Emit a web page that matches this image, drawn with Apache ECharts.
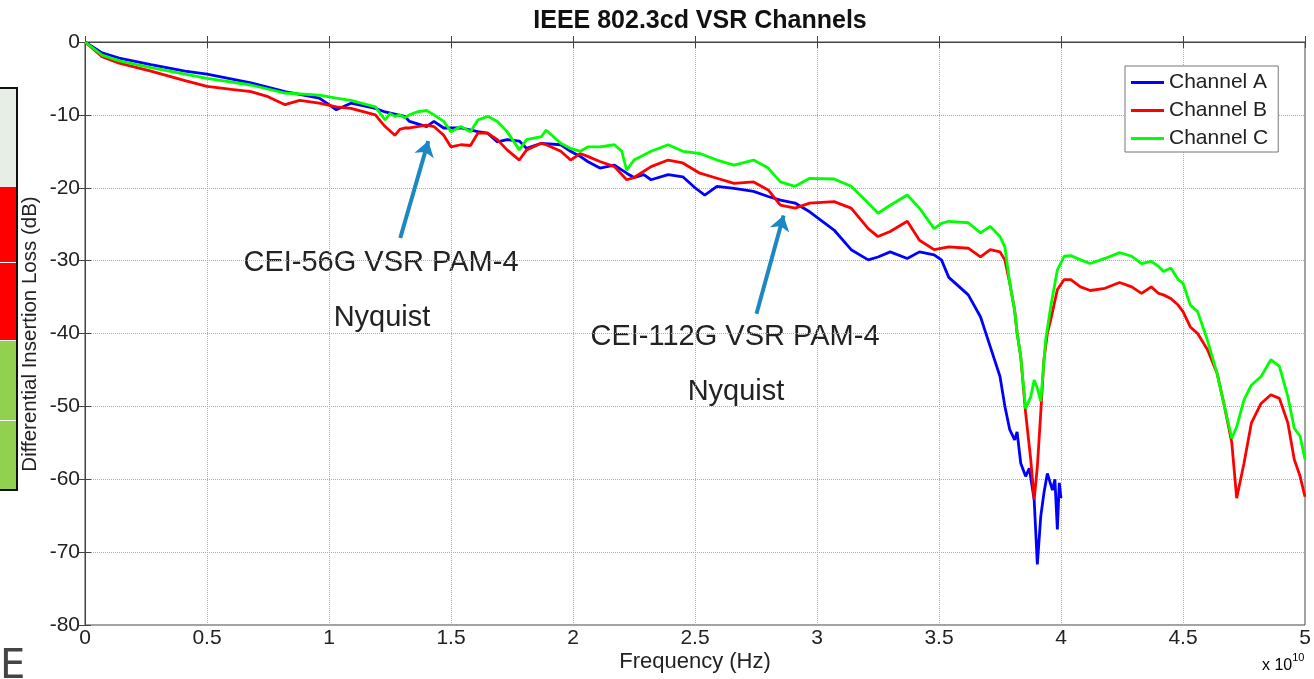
<!DOCTYPE html>
<html>
<head>
<meta charset="utf-8">
<title>IEEE 802.3cd VSR Channels</title>
<script src="https://cdn.jsdelivr.net/npm/echarts@6/dist/echarts.min.js"></script>
<style>
  html, body { margin: 0; padding: 0; background: #fff; }
  #chart { width: 1314px; height: 679px; }
</style>
</head>
<body>
<div id="chart"></div>
<script>
// frequency in units of 1e10 Hz, loss in dB
const freqA = [0, 0.07, 0.14, 0.27, 0.41, 0.5, 0.68, 0.82, 0.96, 1.0, 1.03, 1.09, 1.19, 1.23, 1.31, 1.33, 1.4, 1.43, 1.47, 1.54, 1.61, 1.65, 1.69, 1.73, 1.78, 1.81, 1.87, 1.95, 1.99, 2.03, 2.06, 2.11, 2.17, 2.22, 2.25, 2.29, 2.32, 2.39, 2.45, 2.5, 2.54, 2.59, 2.66, 2.74, 2.8, 2.85, 2.91, 2.97, 3.07, 3.14, 3.21, 3.25, 3.3, 3.37, 3.42, 3.48, 3.51, 3.54, 3.62, 3.67, 3.71, 3.75, 3.77, 3.79, 3.81, 3.82, 3.835, 3.855, 3.87, 3.89, 3.903, 3.917, 3.93, 3.944, 3.965, 3.975, 3.985, 3.993, 4.0];
const lossA = [0, -1.5, -2.2, -3.1, -4.0, -4.4, -5.6, -6.8, -7.7, -8.6, -9.3, -8.4, -9.1, -9.6, -10.2, -10.9, -11.6, -10.9, -11.8, -11.8, -12.3, -12.5, -13.7, -13.4, -13.6, -14.6, -13.9, -14.1, -15.0, -15.7, -16.4, -17.3, -16.9, -18.0, -18.6, -18.2, -18.9, -18.2, -18.5, -20.0, -21.0, -19.8, -20.1, -20.5, -21.2, -21.7, -22.1, -23.3, -25.8, -28.5, -29.9, -29.5, -28.8, -29.7, -28.8, -29.2, -29.9, -32.3, -34.7, -37.7, -41.8, -45.9, -50.0, -53.2, -54.6, -53.5, -57.8, -59.6, -58.5, -62.8, -71.7, -65.1, -61.9, -59.2, -61.5, -60.0, -66.9, -60.5, -62.6];

const freqB = [0, 0.07, 0.14, 0.27, 0.41, 0.5, 0.6, 0.68, 0.75, 0.82, 0.88, 0.96, 1.03, 1.09, 1.19, 1.23, 1.27, 1.29, 1.31, 1.33, 1.4, 1.43, 1.47, 1.5, 1.54, 1.58, 1.61, 1.65, 1.69, 1.73, 1.78, 1.81, 1.87, 1.89, 1.95, 1.99, 2.03, 2.06, 2.11, 2.17, 2.22, 2.25, 2.32, 2.39, 2.45, 2.52, 2.59, 2.66, 2.74, 2.8, 2.85, 2.91, 2.97, 3.07, 3.14, 3.21, 3.25, 3.3, 3.37, 3.42, 3.48, 3.54, 3.62, 3.67, 3.71, 3.75, 3.77, 3.79, 3.81, 3.82, 3.835, 3.855, 3.876, 3.89, 3.903, 3.917, 3.93, 3.944, 3.958, 3.985, 4.013, 4.04, 4.08, 4.12, 4.18, 4.24, 4.29, 4.33, 4.37, 4.4, 4.42, 4.45, 4.48, 4.5, 4.53, 4.56, 4.6, 4.64, 4.67, 4.7, 4.72, 4.75, 4.78, 4.82, 4.86, 4.895, 4.93, 4.956, 4.98, 5.0];
const lossB = [0, -2.0, -2.9, -4.0, -5.3, -6.1, -6.5, -6.8, -7.5, -8.6, -8.0, -8.4, -8.9, -9.1, -10.0, -11.6, -12.8, -12.0, -11.8, -11.8, -11.4, -11.6, -12.8, -14.4, -14.1, -14.2, -12.5, -12.5, -13.4, -14.8, -16.2, -14.8, -13.9, -14.1, -15.0, -16.2, -15.3, -15.7, -16.4, -17.1, -18.9, -18.6, -17.1, -16.2, -16.6, -18.0, -18.7, -19.4, -19.2, -20.3, -22.4, -22.8, -22.1, -21.9, -22.8, -25.6, -26.7, -26.0, -24.6, -27.2, -28.5, -28.1, -28.3, -29.5, -28.5, -28.8, -29.9, -33.1, -36.8, -39.9, -43.2, -50.9, -57.3, -62.8, -58.3, -50.9, -43.6, -40.0, -38.1, -34.0, -32.6, -32.6, -33.6, -34.1, -33.8, -33.0, -33.6, -34.5, -33.6, -34.5, -34.7, -35.2, -36.1, -37.0, -39.1, -40.0, -42.2, -45.5, -50.0, -55.0, -62.6, -57.8, -52.3, -49.6, -48.4, -48.9, -52.3, -57.3, -59.6, -62.4];

const freqC = [0, 0.07, 0.14, 0.27, 0.41, 0.5, 0.68, 0.82, 0.96, 1.03, 1.09, 1.19, 1.23, 1.25, 1.27, 1.29, 1.31, 1.33, 1.36, 1.4, 1.43, 1.47, 1.5, 1.54, 1.58, 1.61, 1.65, 1.69, 1.73, 1.78, 1.81, 1.87, 1.89, 1.95, 1.99, 2.03, 2.06, 2.11, 2.17, 2.2, 2.22, 2.25, 2.32, 2.39, 2.45, 2.52, 2.59, 2.66, 2.74, 2.8, 2.85, 2.91, 2.97, 3.07, 3.14, 3.21, 3.25, 3.3, 3.37, 3.42, 3.48, 3.51, 3.54, 3.62, 3.67, 3.71, 3.75, 3.77, 3.79, 3.81, 3.82, 3.835, 3.855, 3.876, 3.89, 3.903, 3.917, 3.937, 3.958, 3.985, 4.013, 4.04, 4.08, 4.12, 4.18, 4.24, 4.29, 4.33, 4.37, 4.4, 4.42, 4.45, 4.48, 4.5, 4.53, 4.56, 4.6, 4.64, 4.67, 4.7, 4.72, 4.75, 4.78, 4.82, 4.86, 4.895, 4.93, 4.956, 4.98, 5.0];
const lossC = [0, -1.8, -2.6, -3.5, -4.4, -5.0, -5.9, -7.0, -7.3, -7.7, -8.0, -8.9, -10.7, -9.8, -10.2, -10.0, -10.4, -10.0, -9.6, -9.4, -10.0, -10.9, -12.3, -11.6, -12.3, -10.7, -10.2, -10.9, -12.3, -14.8, -13.4, -13.0, -12.1, -13.9, -14.6, -15.0, -14.4, -14.4, -14.1, -15.0, -17.6, -16.2, -15.0, -14.1, -15.0, -15.3, -16.2, -16.9, -16.2, -17.3, -19.2, -19.8, -18.7, -18.8, -19.8, -22.1, -23.5, -22.4, -21.0, -22.8, -25.6, -24.9, -24.6, -24.8, -26.2, -25.3, -26.7, -28.1, -33.1, -36.8, -39.9, -43.2, -50.3, -48.7, -46.4, -47.5, -49.3, -40.9, -36.3, -31.3, -29.4, -29.3, -29.9, -30.4, -29.7, -28.9, -29.4, -30.4, -30.1, -30.8, -31.5, -31.0, -32.6, -33.1, -36.1, -37.0, -40.9, -45.5, -50.0, -54.4, -52.8, -49.1, -47.1, -45.9, -43.6, -44.5, -48.7, -53.0, -54.1, -57.3];

const channelNames = ['Channel A', 'Channel B', 'Channel C'];
const channelColors = ['#0000ff', '#ff0000', '#00ff00'];

// annotation arrows: [tail, tip] in data units
const arrow56 = [[1.292, -26.9], [1.407, -13.6]];
const arrow112 = [[2.752, -37.3], [2.863, -23.8]];

const font = '"Liberation Sans", Arial, sans-serif';

function pairs(xs, ys) {
  return xs.map((x, i) => [x, ys[i]]);
}

const chart = echarts.init(document.getElementById('chart'));

const arrowStyle = { color: '#1b87c3', width: 4, type: 'solid' };

const axisCommon = {
  type: 'value',
  axisLine: { show: true, lineStyle: { color: '#444', width: 1 } },
  axisTick: { show: true, inside: true, length: 6, lineStyle: { color: '#444' } },
};

chart.setOption({
  animation: false,
  title: {
    text: 'IEEE 802.3cd VSR Channels',
    left: 695,
    textAlign: 'center',
    top: 4,
    textStyle: { fontFamily: font, fontSize: 25, fontWeight: 'bold', color: '#111' },
  },
  grid: {
    left: 85, right: 9, top: 42, bottom: 54,
    show: true, borderColor: '#444', borderWidth: 1,
  },
  legend: {
    orient: 'vertical',
    left: 1125,
    top: 66,
    padding: [6, 10, 3, 6],
    itemGap: 7,
    itemWidth: 33,
    itemHeight: 3,
    icon: 'rect',
    backgroundColor: '#fff',
    borderColor: '#777',
    borderWidth: 1,
    borderRadius: 0,
    textStyle: { fontFamily: font, fontSize: 21, color: '#222', lineHeight: 21 },
    data: channelNames,
  },
  xAxis: [
    Object.assign({}, axisCommon, {
      min: 0, max: 5, interval: 0.5,
      axisLabel: { fontFamily: font, fontSize: 21, color: '#222', margin: 3 },
      splitLine: { show: true, lineStyle: { color: '#aaa', type: 'dotted', width: 1 } },
    }),
    Object.assign({}, axisCommon, {
      position: 'top',
      min: 0, max: 5, interval: 0.5,
      axisLabel: { show: false },
      splitLine: { show: false },
    }),
  ],
  yAxis: [
    Object.assign({}, axisCommon, {
      min: -80, max: 0, interval: 10,
      axisLabel: { fontFamily: font, fontSize: 21, color: '#222', margin: 5 },
      splitLine: { show: true, lineStyle: { color: '#aaa', type: 'dotted', width: 1 } },
    }),
    Object.assign({}, axisCommon, {
      position: 'right',
      min: -80, max: 0, interval: 10,
      axisLabel: { show: false },
      splitLine: { show: false },
    }),
  ],
  series: [
    {
      name: channelNames[0],
      type: 'line',
      data: pairs(freqA, lossA),
      showSymbol: false,
      symbol: 'none',
      color: channelColors[0],
      lineStyle: { color: channelColors[0], width: 2.8 },
      markLine: {
        silent: true,
        symbol: ['none', 'arrow'],
        symbolSize: 15,
        label: { show: false },
        lineStyle: arrowStyle,
        data: [
          [{ coord: arrow56[0] }, { coord: arrow56[1] }],
          [{ coord: arrow112[0] }, { coord: arrow112[1] }],
        ],
      },
    },
    {
      name: channelNames[1],
      type: 'line',
      data: pairs(freqB, lossB),
      showSymbol: false,
      symbol: 'none',
      color: channelColors[1],
      lineStyle: { color: channelColors[1], width: 2.8 },
    },
    {
      name: channelNames[2],
      type: 'line',
      data: pairs(freqC, lossC),
      showSymbol: false,
      symbol: 'none',
      color: channelColors[2],
      lineStyle: { color: channelColors[2], width: 2.8 },
    },
  ],
  graphic: [
    // cropped slide table on the left edge
    { type: 'rect', shape: { x: 0, y: 88, width: 17, height: 99 }, style: { fill: '#e6eee6' } },
    { type: 'rect', shape: { x: 0, y: 187, width: 17, height: 75 }, style: { fill: '#ff0000' } },
    { type: 'rect', shape: { x: 0, y: 263, width: 17, height: 77 }, style: { fill: '#ff0000' } },
    { type: 'rect', shape: { x: 0, y: 341, width: 17, height: 79 }, style: { fill: '#92d050' } },
    { type: 'rect', shape: { x: 0, y: 421, width: 17, height: 69 }, style: { fill: '#92d050' } },
    { type: 'polyline', shape: { points: [[0, 88], [17, 88], [17, 490], [0, 490]] }, style: { stroke: '#111', lineWidth: 2, fill: null } },
    { type: 'text', x: 0, y: 648, style: { text: 'E', font: '40px "DejaVu Sans", sans-serif', fill: '#444' } },
    // axis names
    {
      type: 'text', x: 30, y: 334, rotation: Math.PI / 2,
      style: { text: 'Differential Insertion Loss (dB)', font: '20.5px ' + font, fill: '#222', align: 'center', verticalAlign: 'middle' },
    },
    {
      type: 'text', x: 695, y: 662,
      style: { text: 'Frequency (Hz)', font: '22px ' + font, fill: '#222', align: 'center', verticalAlign: 'middle' },
    },
    {
      type: 'text', x: 1262, y: 652,
      style: {
        text: '{b|x 10}{s|10}',
        rich: {
          b: { fontFamily: font, fontSize: 16, color: '#222', verticalAlign: 'bottom', lineHeight: 22 },
          s: { fontFamily: font, fontSize: 11, color: '#222', verticalAlign: 'top', lineHeight: 22 },
        },
      },
    },
    // annotations
    { type: 'text', x: 381, y: 263, style: { text: 'CEI-56G VSR PAM-4', font: '29px ' + font, fill: '#222', align: 'center', verticalAlign: 'middle' } },
    { type: 'text', x: 382, y: 318, style: { text: 'Nyquist', font: '29px ' + font, fill: '#222', align: 'center', verticalAlign: 'middle' } },
    { type: 'text', x: 735, y: 337, style: { text: 'CEI-112G VSR PAM-4', font: '29px ' + font, fill: '#222', align: 'center', verticalAlign: 'middle' } },
    { type: 'text', x: 736, y: 392, style: { text: 'Nyquist', font: '29px ' + font, fill: '#222', align: 'center', verticalAlign: 'middle' } },
  ],
});
</script>
</body>
</html>
